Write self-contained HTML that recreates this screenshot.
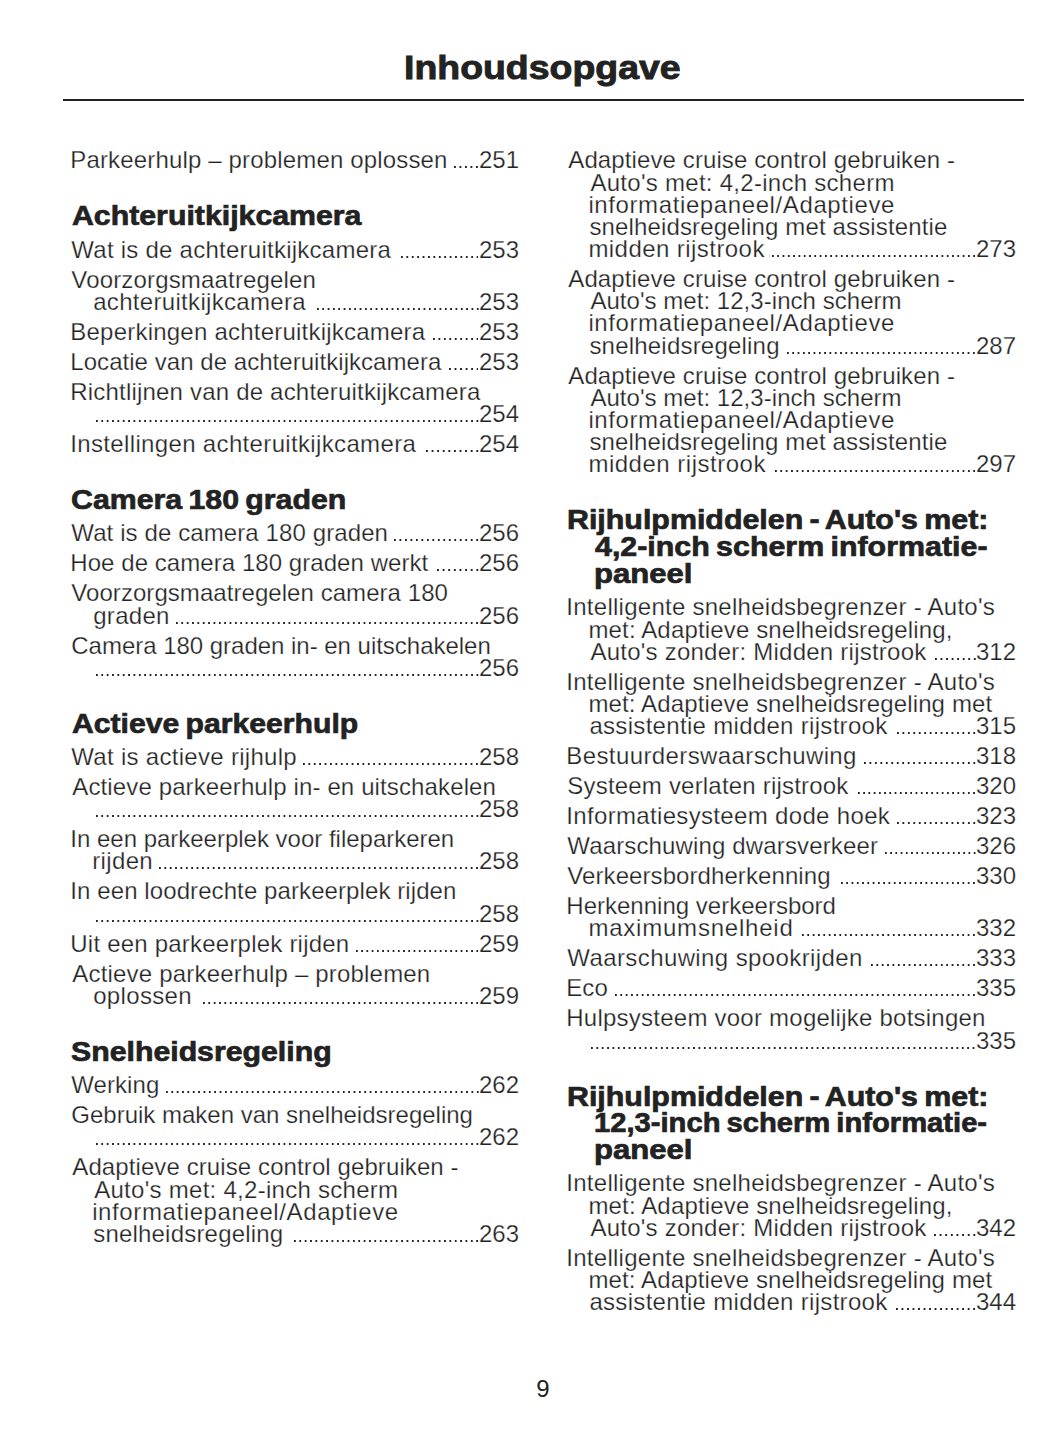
<!DOCTYPE html>
<html><head><meta charset="utf-8"><title>Inhoudsopgave</title>
<style>
html,body{margin:0;padding:0;background:#fff;}
body{width:1056px;height:1449px;position:relative;overflow:hidden;font-family:"Liberation Sans",sans-serif;color:#222;}
.e{position:absolute;font-size:24px;line-height:24px;white-space:nowrap;-webkit-text-stroke:0.25px #fff;}
.h{position:absolute;font-size:28px;line-height:29px;font-weight:bold;white-space:nowrap;word-spacing:-2px;-webkit-text-stroke:0.7px #222;transform-origin:0 0;}

.title{position:absolute;left:404.2px;top:50px;font-size:34px;line-height:34px;font-weight:bold;-webkit-text-stroke:0.9px #222;transform-origin:0 0;transform:scaleX(1.101);}
.rule{position:absolute;left:63px;top:99px;width:961px;height:2px;background:#222;}
.d{position:absolute;height:2.3px;background-image:linear-gradient(to right,#222 2.1px,transparent 2.1px);background-size:5.35px 100%;background-repeat:repeat-x;background-position:left top;}
.pn{position:absolute;left:0;width:1086px;text-align:center;top:1377px;font-size:24px;line-height:24px;}
</style></head><body>
<div class="title">Inhoudsopgave</div>
<div class="rule"></div>
<div class="e" style="top:148px;left:70.30px;letter-spacing:0.158px">Parkeerhulp – problemen oplossen</div>
<div class="e n" style="top:148px;right:537px">251</div>
<div class="d" style="top:165.7px;left:454.40px;width:24.10px;background-size:5.500px 100%"></div>
<div class="h" style="top:201px;left:72.20px;transform:scaleX(1.0813)">Achteruitkijkcamera</div>
<div class="e" style="top:238px;left:71.30px;letter-spacing:0.250px">Wat is de achteruitkijkcamera</div>
<div class="e n" style="top:238px;right:537px">253</div>
<div class="d" style="top:255.7px;left:400.70px;width:77.80px;background-size:5.407px 100%"></div>
<div class="e" style="top:268px;left:71.30px;letter-spacing:0.168px">Voorzorgsmaatregelen</div>
<div class="e" style="top:290px;left:93.20px;letter-spacing:0.317px">achteruitkijkcamera</div>
<div class="e n" style="top:290px;right:537px">253</div>
<div class="d" style="top:307.7px;left:316.50px;width:162.00px;background-size:5.330px 100%"></div>
<div class="e" style="top:320px;left:70.30px;letter-spacing:0.223px">Beperkingen achteruitkijkcamera</div>
<div class="e n" style="top:320px;right:537px">253</div>
<div class="d" style="top:337.7px;left:432.70px;width:45.80px;background-size:5.463px 100%"></div>
<div class="e" style="top:350px;left:70.30px;letter-spacing:0.045px">Locatie van de achteruitkijkcamera</div>
<div class="e n" style="top:350px;right:537px">253</div>
<div class="d" style="top:367.7px;left:448.60px;width:29.90px;background-size:5.560px 100%"></div>
<div class="e" style="top:380px;left:70.30px;letter-spacing:0.195px">Richtlijnen van de achteruitkijkcamera</div>
<div class="e n" style="top:402px;right:537px">254</div>
<div class="d" style="top:419.7px;left:95.50px;width:383.00px;background-size:5.365px 100%"></div>
<div class="e" style="top:432px;left:70.30px;letter-spacing:0.345px">Instellingen achteruitkijkcamera</div>
<div class="e n" style="top:432px;right:537px">254</div>
<div class="d" style="top:449.7px;left:426.00px;width:52.50px;background-size:5.600px 100%"></div>
<div class="h" style="top:485px;left:71.12px;transform:scaleX(1.0825)">Camera 180 graden</div>
<div class="e" style="top:521px;left:71.30px;letter-spacing:0.104px">Wat is de camera 180 graden</div>
<div class="e n" style="top:521px;right:537px">256</div>
<div class="d" style="top:538.7px;left:394.00px;width:84.50px;background-size:5.493px 100%"></div>
<div class="e" style="top:551px;left:70.30px;letter-spacing:0.059px">Hoe de camera 180 graden werkt</div>
<div class="e n" style="top:551px;right:537px">256</div>
<div class="d" style="top:568.7px;left:437.00px;width:41.50px;background-size:5.629px 100%"></div>
<div class="e" style="top:581px;left:71.30px;letter-spacing:0.057px">Voorzorgsmaatregelen camera 180</div>
<div class="e" style="top:604px;left:93.20px;letter-spacing:0.300px">graden</div>
<div class="e n" style="top:604px;right:537px">256</div>
<div class="d" style="top:621.7px;left:176.00px;width:302.50px;background-size:5.364px 100%"></div>
<div class="e" style="top:634px;left:71.30px;letter-spacing:-0.022px">Camera 180 graden in- en uitschakelen</div>
<div class="e n" style="top:656px;right:537px">256</div>
<div class="d" style="top:673.7px;left:95.50px;width:383.00px;background-size:5.365px 100%"></div>
<div class="h" style="top:709px;left:72.20px;transform:scaleX(1.0774)">Actieve parkeerhulp</div>
<div class="e" style="top:745px;left:71.30px;letter-spacing:0.295px">Wat is actieve rijhulp</div>
<div class="e n" style="top:745px;right:537px">258</div>
<div class="d" style="top:762.7px;left:303.00px;width:175.50px;background-size:5.419px 100%"></div>
<div class="e" style="top:775px;left:72.30px;letter-spacing:0.124px">Actieve parkeerhulp in- en uitschakelen</div>
<div class="e n" style="top:797px;right:537px">258</div>
<div class="d" style="top:814.7px;left:95.50px;width:383.00px;background-size:5.365px 100%"></div>
<div class="e" style="top:827px;left:70.30px;letter-spacing:-0.009px">In een parkeerplek voor fileparkeren</div>
<div class="e" style="top:849px;left:92.20px;letter-spacing:0.360px">rijden</div>
<div class="e n" style="top:849px;right:537px">258</div>
<div class="d" style="top:866.7px;left:159.00px;width:319.50px;background-size:5.380px 100%"></div>
<div class="e" style="top:879px;left:70.30px;letter-spacing:0.091px">In een loodrechte parkeerplek rijden</div>
<div class="e n" style="top:902px;right:537px">258</div>
<div class="d" style="top:919.7px;left:95.50px;width:383.00px;background-size:5.365px 100%"></div>
<div class="e" style="top:932px;left:70.30px;letter-spacing:0.216px">Uit een parkeerplek rijden</div>
<div class="e n" style="top:932px;right:537px">259</div>
<div class="d" style="top:949.7px;left:356.00px;width:122.50px;background-size:5.235px 100%"></div>
<div class="e" style="top:962px;left:72.30px;letter-spacing:0.190px">Actieve parkeerhulp – problemen</div>
<div class="e" style="top:984px;left:93.20px;letter-spacing:0.329px">oplossen</div>
<div class="e n" style="top:984px;right:537px">259</div>
<div class="d" style="top:1001.7px;left:203.00px;width:275.50px;background-size:5.361px 100%"></div>
<div class="h" style="top:1037px;left:71.12px;transform:scaleX(1.0808)">Snelheidsregeling</div>
<div class="e" style="top:1073px;left:71.30px;letter-spacing:0.067px">Werking</div>
<div class="e n" style="top:1073px;right:537px">262</div>
<div class="d" style="top:1090.7px;left:165.50px;width:313.00px;background-size:5.360px 100%"></div>
<div class="e" style="top:1103px;left:71.30px;letter-spacing:0.003px">Gebruik maken van snelheidsregeling</div>
<div class="e n" style="top:1125px;right:537px">262</div>
<div class="d" style="top:1142.7px;left:95.50px;width:383.00px;background-size:5.365px 100%"></div>
<div class="e" style="top:1155px;left:72.30px;letter-spacing:0.097px">Adaptieve cruise control gebruiken -</div>
<div class="e" style="top:1178px;left:94.20px;letter-spacing:0.277px">Auto&#x27;s met: 4,2-inch scherm</div>
<div class="e" style="top:1200px;left:92.20px;letter-spacing:0.604px">informatiepaneel/Adaptieve</div>
<div class="e" style="top:1222px;left:93.20px;letter-spacing:0.200px">snelheidsregeling</div>
<div class="e n" style="top:1222px;right:537px">263</div>
<div class="d" style="top:1239.7px;left:294.00px;width:184.50px;background-size:5.365px 100%"></div>
<div class="e" style="top:148px;left:568.30px;letter-spacing:0.106px">Adaptieve cruise control gebruiken -</div>
<div class="e" style="top:171px;left:590.40px;letter-spacing:0.281px">Auto&#x27;s met: 4,2-inch scherm</div>
<div class="e" style="top:193px;left:588.40px;letter-spacing:0.608px">informatiepaneel/Adaptieve</div>
<div class="e" style="top:215px;left:589.40px;letter-spacing:0.137px">snelheidsregeling met assistentie</div>
<div class="e" style="top:237px;left:588.40px;letter-spacing:0.440px">midden rijstrook</div>
<div class="e n" style="top:237px;right:40px">273</div>
<div class="d" style="top:254.7px;left:772.00px;width:203.50px;background-size:5.300px 100%"></div>
<div class="e" style="top:267px;left:568.30px;letter-spacing:0.106px">Adaptieve cruise control gebruiken -</div>
<div class="e" style="top:289px;left:590.40px;letter-spacing:0.041px">Auto&#x27;s met: 12,3-inch scherm</div>
<div class="e" style="top:311px;left:588.40px;letter-spacing:0.608px">informatiepaneel/Adaptieve</div>
<div class="e" style="top:334px;left:589.40px;letter-spacing:0.206px">snelheidsregeling</div>
<div class="e n" style="top:334px;right:40px">287</div>
<div class="d" style="top:351.7px;left:787.00px;width:188.50px;background-size:5.326px 100%"></div>
<div class="e" style="top:364px;left:568.30px;letter-spacing:0.106px">Adaptieve cruise control gebruiken -</div>
<div class="e" style="top:386px;left:590.40px;letter-spacing:0.041px">Auto&#x27;s met: 12,3-inch scherm</div>
<div class="e" style="top:408px;left:588.40px;letter-spacing:0.608px">informatiepaneel/Adaptieve</div>
<div class="e" style="top:430px;left:589.40px;letter-spacing:0.137px">snelheidsregeling met assistentie</div>
<div class="e" style="top:452px;left:588.40px;letter-spacing:0.507px">midden rijstrook</div>
<div class="e n" style="top:452px;right:40px">297</div>
<div class="d" style="top:469.7px;left:775.00px;width:200.50px;background-size:5.362px 100%"></div>
<div class="h" style="top:505px;left:567.22px;transform:scaleX(1.0847)">Rijhulpmiddelen - Auto&#x27;s met:</div>
<div class="h" style="top:532px;left:595.00px;transform:scaleX(1.0853)">4,2-inch scherm informatie-</div>
<div class="h" style="top:559px;left:593.89px;transform:scaleX(1.1105)">paneel</div>
<div class="e" style="top:595px;left:566.30px;letter-spacing:0.264px">Intelligente snelheidsbegrenzer - Auto&#x27;s</div>
<div class="e" style="top:618px;left:588.40px;letter-spacing:0.159px">met: Adaptieve snelheidsregeling,</div>
<div class="e" style="top:640px;left:590.40px;letter-spacing:0.237px">Auto&#x27;s zonder: Midden rijstrook</div>
<div class="e n" style="top:640px;right:40px">312</div>
<div class="d" style="top:657.7px;left:934.50px;width:41.00px;background-size:5.557px 100%"></div>
<div class="e" style="top:670px;left:566.30px;letter-spacing:0.264px">Intelligente snelheidsbegrenzer - Auto&#x27;s</div>
<div class="e" style="top:692px;left:588.40px;letter-spacing:0.140px">met: Adaptieve snelheidsregeling met</div>
<div class="e" style="top:714px;left:589.40px;letter-spacing:0.311px">assistentie midden rijstrook</div>
<div class="e n" style="top:714px;right:40px">315</div>
<div class="d" style="top:731.7px;left:897.00px;width:78.50px;background-size:5.457px 100%"></div>
<div class="e" style="top:744px;left:566.30px;letter-spacing:0.395px">Bestuurderswaarschuwing</div>
<div class="e n" style="top:744px;right:40px">318</div>
<div class="d" style="top:761.7px;left:864.00px;width:111.50px;background-size:5.470px 100%"></div>
<div class="e" style="top:774px;left:567.30px;letter-spacing:0.196px">Systeem verlaten rijstrook</div>
<div class="e n" style="top:774px;right:40px">320</div>
<div class="d" style="top:791.7px;left:858.00px;width:117.50px;background-size:5.245px 100%"></div>
<div class="e" style="top:804px;left:566.30px;letter-spacing:0.335px">Informatiesysteem dode hoek</div>
<div class="e n" style="top:804px;right:40px">323</div>
<div class="d" style="top:821.7px;left:897.00px;width:78.50px;background-size:5.457px 100%"></div>
<div class="e" style="top:834px;left:567.30px;letter-spacing:0.142px">Waarschuwing dwarsverkeer</div>
<div class="e n" style="top:834px;right:40px">326</div>
<div class="d" style="top:851.7px;left:884.50px;width:91.00px;background-size:5.229px 100%"></div>
<div class="e" style="top:864px;left:567.30px;letter-spacing:0.081px">Verkeersbordherkenning</div>
<div class="e n" style="top:864px;right:40px">330</div>
<div class="d" style="top:881.7px;left:841.00px;width:134.50px;background-size:5.296px 100%"></div>
<div class="e" style="top:894px;left:566.30px;letter-spacing:0.009px">Herkenning verkeersbord</div>
<div class="e" style="top:916px;left:588.40px;letter-spacing:0.786px">maximumsnelheid</div>
<div class="e n" style="top:916px;right:40px">332</div>
<div class="d" style="top:933.7px;left:802.00px;width:173.50px;background-size:5.356px 100%"></div>
<div class="e" style="top:946px;left:567.30px;letter-spacing:0.400px">Waarschuwing spookrijden</div>
<div class="e n" style="top:946px;right:40px">333</div>
<div class="d" style="top:963.7px;left:871.00px;width:104.50px;background-size:5.389px 100%"></div>
<div class="e" style="top:976px;left:566.30px;letter-spacing:0.050px">Eco</div>
<div class="e n" style="top:976px;right:40px">335</div>
<div class="d" style="top:993.7px;left:615.00px;width:360.50px;background-size:5.349px 100%"></div>
<div class="e" style="top:1006px;left:566.30px;letter-spacing:0.237px">Hulpsysteem voor mogelijke botsingen</div>
<div class="e n" style="top:1029px;right:40px">335</div>
<div class="d" style="top:1046.7px;left:591.40px;width:384.10px;background-size:5.380px 100%"></div>
<div class="h" style="top:1082px;left:567.22px;transform:scaleX(1.0847)">Rijhulpmiddelen - Auto&#x27;s met:</div>
<div class="h" style="top:1108px;left:593.96px;transform:scaleX(1.0420)">12,3-inch scherm informatie-</div>
<div class="h" style="top:1135px;left:593.89px;transform:scaleX(1.1105)">paneel</div>
<div class="e" style="top:1171px;left:566.30px;letter-spacing:0.264px">Intelligente snelheidsbegrenzer - Auto&#x27;s</div>
<div class="e" style="top:1194px;left:588.40px;letter-spacing:0.159px">met: Adaptieve snelheidsregeling,</div>
<div class="e" style="top:1216px;left:590.40px;letter-spacing:0.237px">Auto&#x27;s zonder: Midden rijstrook</div>
<div class="e n" style="top:1216px;right:40px">342</div>
<div class="d" style="top:1233.7px;left:934.00px;width:41.50px;background-size:5.629px 100%"></div>
<div class="e" style="top:1246px;left:566.30px;letter-spacing:0.264px">Intelligente snelheidsbegrenzer - Auto&#x27;s</div>
<div class="e" style="top:1268px;left:588.40px;letter-spacing:0.140px">met: Adaptieve snelheidsregeling met</div>
<div class="e" style="top:1290px;left:589.40px;letter-spacing:0.311px">assistentie midden rijstrook</div>
<div class="e n" style="top:1290px;right:40px">344</div>
<div class="d" style="top:1307.7px;left:896.00px;width:79.50px;background-size:5.529px 100%"></div>
<div class="pn">9</div>
</body></html>
